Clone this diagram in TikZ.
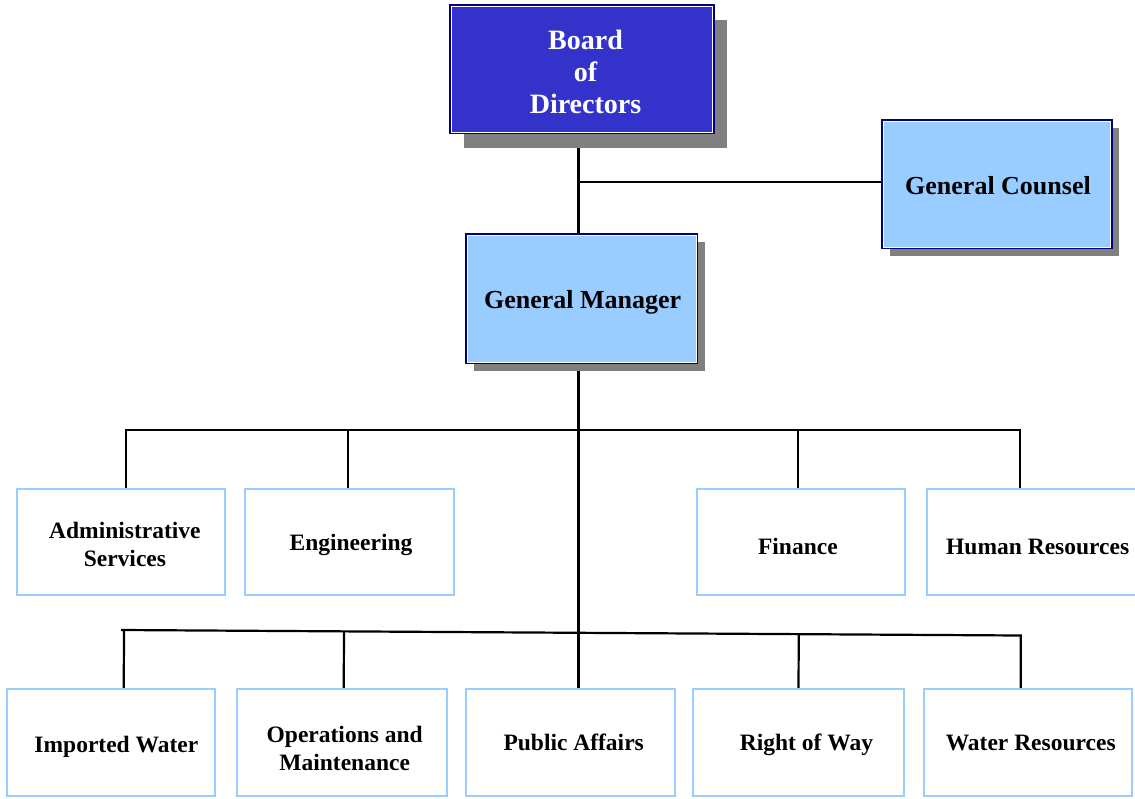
\documentclass[tikz,border=0pt]{standalone}
\usepackage{fontspec}
\setmainfont{Liberation Serif}
\usetikzlibrary{calc,shadows}
\pgfdeclarelayer{bg}
\pgfsetlayers{bg,main}
\definecolor{navy}{HTML}{000080}
\definecolor{boardblue}{HTML}{3333CC}
\definecolor{lightblue}{HTML}{99CCFF}
\definecolor{shadowgray}{HTML}{808080}
% #1 horizontal shift (doubled), #2 vertical raise (dimensions kept), #3 text
\newcommand\boxtext[3]{\hspace*{#1}\raisebox{#2}[\height][\depth]{\begin{tabular}{@{}c@{}}#3\end{tabular}}}
\tikzset{
  conn/.style={draw=black, line width=2.2pt},
  headbox/.style={draw=navy, line width=2.2pt, fill=lightblue, inner sep=0pt,
    align=center, font=\bfseries\fontsize{26}{30}\selectfont},
  unitbox/.style={draw=lightblue, line width=2pt, fill=white, inner sep=0pt,
    align=center, minimum width=209pt, minimum height=106pt,
    font=\bfseries\fontsize{23.5}{28}\selectfont},
  inset/.style={draw=white, line width=0.8pt}
}
\begin{document}
\begin{tikzpicture}[x=1pt,y=-1pt]
\useasboundingbox (0,0) rectangle (1135,798);
\clip (0,0) rectangle (1135,798);

% head boxes
\node[headbox, fill=boardblue, text=white, minimum width=263pt, minimum height=128pt,
  font=\bfseries\fontsize{28}{32}\selectfont,
  drop shadow={shadow xshift=13pt, shadow yshift=-15pt, fill=shadowgray, opacity=1}]
  (board) at (582,69) {\boxtext{7pt}{-6pt}{Board\\of\\Directors}};
\node[headbox, minimum width=229pt, minimum height=128pt,
  drop shadow={shadow xshift=7pt, shadow yshift=-8pt, fill=shadowgray, opacity=1}]
  (gc) at (997,184.3) {\boxtext{2pt}{-4pt}{General Counsel}};
\node[headbox, minimum width=231pt, minimum height=129pt,
  drop shadow={shadow xshift=7.5pt, shadow yshift=-8pt, fill=shadowgray, opacity=1}]
  (gm) at (581.7,298.7) {\boxtext{2pt}{-4pt}{General Manager}};
\foreach \n in {board,gc,gm}
  \draw[inset] ([shift={(2.2,2.2)}]\n.north west) rectangle ([shift={(-2.2,-2.2)}]\n.south east);

% second row
\node[unitbox, minimum width=208.5pt] (admin) at (120.9,541.9) {\boxtext{8pt}{-5pt}{Administrative\\Services}};
\node[unitbox] (eng) at (349,541.9) {\boxtext{4pt}{-3pt}{Engineering}};
\node[unitbox, minimum width=208pt] (fin) at (800.9,541.9) {\boxtext{0pt}{-7pt}{Finance}\hspace*{6pt}};
\node[unitbox] (hr) at (1031.7,541.9) {\boxtext{12pt}{-7pt}{Human Resources}};

% bottom row
\node[unitbox, minimum width=208pt, minimum height=106.5pt] (imp) at (110.9,742.5) {\boxtext{11pt}{-4pt}{Imported Water}};
\node[unitbox, minimum width=210pt, minimum height=106.5pt] (ops) at (341.7,742.5) {\boxtext{6pt}{-8pt}{Operations and\\Maintenance}};
\node[unitbox, minimum height=106.5pt] (pub) at (570.2,742.5) {\boxtext{7pt}{-2pt}{Public Affairs}};
\node[unitbox, minimum width=211pt, minimum height=106.5pt] (row) at (798.5,742.5) {\boxtext{16pt}{-2pt}{Right of Way}};
\node[unitbox, minimum width=208pt, minimum height=106.5pt] (wr) at (1027.7,742.5) {\boxtext{6pt}{-2pt}{Water Resources}};

% connectors
\coordinate (t1) at (578.5,182);
\coordinate (bus1) at (578.5,430);
\coordinate (bl) at (121,630);
\coordinate (br) at (1020.7,635.5);
\begin{pgfonlayer}{bg}
  \fill[white] (0,0) rectangle (1135,798);
  \draw[conn] (board.south -| t1) -- (gm.north -| t1);
  \draw[conn] (t1) -- (t1 -| gc.west);
  \draw[conn] (gm.south -| t1) -- (pub.north -| t1);
  \draw[conn] ([xshift=4.8pt]admin.north) |- (bus1) -| ([xshift=-11.7pt]hr.north);
  \draw[conn] ([xshift=-1.3pt]eng.north) -- ([xshift=-1.3pt]eng.north |- bus1);
  \draw[conn] ([xshift=-2.6pt]fin.north) -- ([xshift=-2.6pt]fin.north |- bus1);
  \draw[conn] (bl) -- (br) -- ([xshift=-7pt]wr.north);
  \draw[conn] ([xshift=12.8pt]imp.north) -- ($(bl)!([xshift=12.8pt]imp.north)!(br)$);
  \draw[conn] ([xshift=2pt]ops.north) -- ($(bl)!([xshift=2pt]ops.north)!(br)$);
  \draw[conn] (row.north) -- ($(bl)!(row.north)!(br)$);
\end{pgfonlayer}
\end{tikzpicture}
\end{document}
